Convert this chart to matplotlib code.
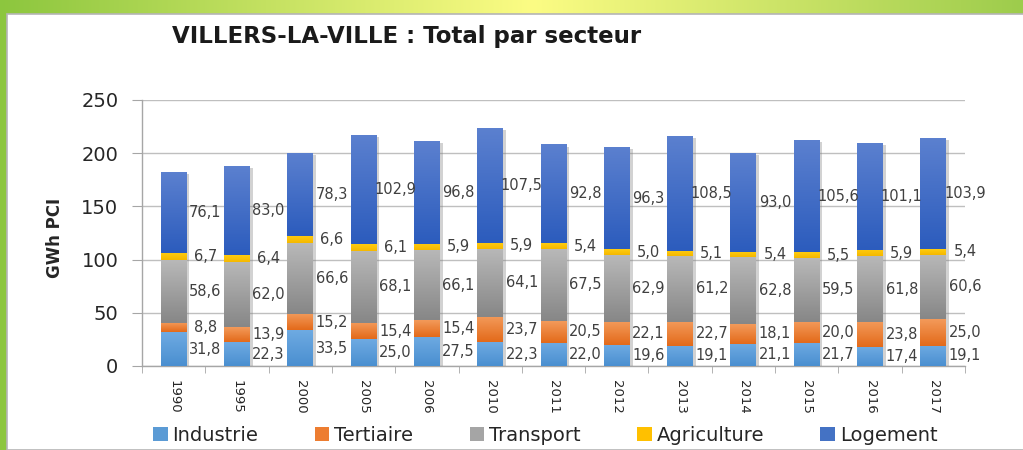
import matplotlib
matplotlib.use("Agg")
import matplotlib.pyplot as plt
import numpy as np
from matplotlib.colors import LinearSegmentedColormap, to_rgb
from matplotlib.patches import Patch, Rectangle
import matplotlib.patheffects as pe

years = ["1990", "1995", "2000", "2005", "2006", "2010", "2011", "2012",
         "2013", "2014", "2015", "2016", "2017"]
industrie = [31.8, 22.3, 33.5, 25.0, 27.5, 22.3, 22.0, 19.6, 19.1, 21.1, 21.7, 17.4, 19.1]
tertiaire = [8.8, 13.9, 15.2, 15.4, 15.4, 23.7, 20.5, 22.1, 22.7, 18.1, 20.0, 23.8, 25.0]
transport = [58.6, 62.0, 66.6, 68.1, 66.1, 64.1, 67.5, 62.9, 61.2, 62.8, 59.5, 61.8, 60.6]
agriculture = [6.7, 6.4, 6.6, 6.1, 5.9, 5.9, 5.4, 5.0, 5.1, 5.4, 5.5, 5.9, 5.4]
logement = [76.1, 83.0, 78.3, 102.9, 96.8, 107.5, 92.8, 96.3, 108.5, 93.0, 105.6, 101.1, 103.9]

series_names = ["Industrie", "Tertiaire", "Transport", "Agriculture", "Logement"]
series_values = [industrie, tertiaire, transport, agriculture, logement]
legend_colors = ["#5b9bd5", "#ed7d31", "#a5a5a5", "#ffc000", "#4472c4"]
grad_top = ["#6eaae2", "#f39a5a", "#b8b8b8", "#ffcc10", "#5b80cf"]
grad_bot = ["#4a8fd0", "#e36a1a", "#878787", "#f5b800", "#2c5cbd"]

plt.rcParams['font.family'] = ['DejaVu Sans']

fig = plt.figure(figsize=(10.23, 4.5), dpi=100)

# background frame
W, H = 1023, 450
bg = fig.add_axes([0, 0, 1, 1], zorder=-10)
xs = np.linspace(0, 1, W)
g1 = np.array(to_rgb("#8cc63e"))
y1 = np.array(to_rgb("#fcfc84"))
g2 = np.array(to_rgb("#9dcc4c"))
row = np.where(xs[:, None] < 0.52,
               g1 + (y1 - g1) * (xs[:, None] / 0.52),
               y1 + (g2 - y1) * ((xs[:, None] - 0.52) / 0.48))
img = np.tile(row[None, :, :], (H, 1, 1))
bg.imshow(img, extent=[0, 1, 0, 1], aspect='auto')
bg.add_patch(Rectangle((7 / W, 0), 1, 1 - 14 / H, facecolor="white",
                       edgecolor="#b5b5b5", linewidth=1.2))
bg.set_xlim(0, 1)
bg.set_ylim(0, 1)
bg.axis("off")

ax = fig.add_axes([0.1388, 0.1867, 0.8045, 0.5911])
ax.set_facecolor("white")
x = np.arange(len(years))
width = 0.41
bottom = np.zeros(len(years))
for i, (name, vals) in enumerate(zip(series_names, series_values)):
    vals = np.array(vals)
    bars = ax.bar(x, vals, width, bottom=bottom, color=legend_colors[i],
                  zorder=3, linewidth=0)
    cmap = LinearSegmentedColormap.from_list("g%d" % i, [grad_bot[i], grad_top[i]])
    grad = np.linspace(0, 1, 64).reshape(-1, 1)
    for b in bars:
        b.set_path_effects([pe.SimplePatchShadow(offset=(2, -1.5),
                                                 shadow_rgbFace="#808080", alpha=0.35),
                            pe.Normal()])
        bx, by = b.get_x(), b.get_y()
        bw, bh = b.get_width(), b.get_height()
        im = ax.imshow(grad, cmap=cmap, origin="lower", aspect="auto",
                       extent=[bx, bx + bw, by, by + bh], zorder=3.5)
        im.set_clip_path(b)
    for xi, v, bo in zip(x, vals, bottom):
        ax.text(xi + 0.5, bo + v / 2, ("%.1f" % v).replace(".", ","),
                ha="center", va="center", fontsize=10.5, color="#404040", zorder=5)
    bottom = bottom + vals

ax.set_xlim(-0.5, len(years) - 0.5)
ax.set_ylim(0, 250)
ax.set_yticks(np.arange(0, 251, 50))
ax.tick_params(axis="y", labelsize=14, length=7, color="#a6a6a6",
               pad=10, labelcolor="#262626")
ax.set_xticks(x)
ax.set_xticklabels(years, rotation=-90, fontsize=9.5, color="#262626")
ax.tick_params(axis="x", which="major", length=0, pad=10)
ax.set_xticks(np.arange(-0.5, len(years), 1), minor=True)
ax.tick_params(axis="x", which="minor", length=5, color="#a6a6a6")
ax.grid(axis="y", color="#bfbfbf", linewidth=1, zorder=0)
ax.set_axisbelow(True)
for s in ["top", "right"]:
    ax.spines[s].set_visible(False)
for s in ["left", "bottom"]:
    ax.spines[s].set_color("#a6a6a6")
    ax.spines[s].set_linewidth(1)

fig.text(0.054, 0.471, "GWh PCI", rotation=90, ha="center", va="center",
         fontsize=12, fontweight="bold", color="#262626")
fig.text(0.397, 0.918, "VILLERS-LA-VILLE : Total par secteur", ha="center",
         va="center", fontsize=16.5, fontweight="bold", color="#1a1a1a")

handles = [Patch(facecolor=c, edgecolor="none") for c in legend_colors]
fig.legend(handles, series_names, loc="center", bbox_to_anchor=(0.533, 0.033),
           ncol=5, frameon=False, fontsize=14, handlelength=0.75, handleheight=0.75,
           handletextpad=0.25, columnspacing=2.9, labelcolor="#262626")

fig.savefig("out.png", dpi=100)
